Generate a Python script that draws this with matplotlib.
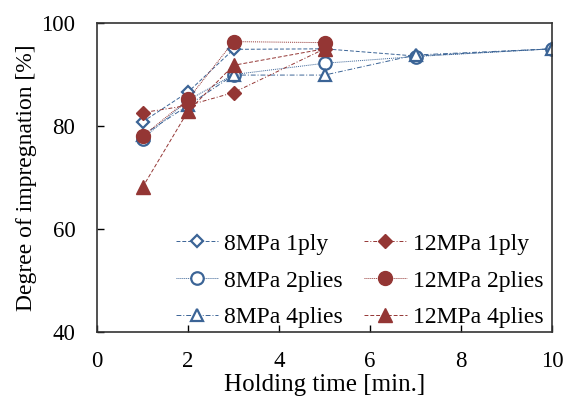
import numpy as np
import matplotlib.pyplot as plt

plt.rcParams['font.family'] = ['Liberation Serif', 'DejaVu Serif']
plt.rcParams['mathtext.fontset'] = 'stix'

blue = '#3b6496'
red = '#943634'

t_8 = [1, 2, 3, 5, 7, 10]
mpa8_1ply = [80.8, 86.6, 94.9, 95.0, 93.6, 95.0]
mpa8_2plies = [77.5, 85.0, 90.0, 92.2, 93.5, 95.0]
mpa8_4plies = [78.2, 84.0, 89.9, 89.9, 93.8, 95.0]

t_12 = [1, 2, 3, 5]
mpa12_1ply = [82.6, 84.0, 86.5, 95.0]
mpa12_2plies = [78.0, 85.2, 96.4, 96.2]
mpa12_4plies = [68.1, 82.9, 91.8, 95.0]

fig = plt.figure(figsize=(5.64, 3.98), dpi=100)
ax = fig.add_axes([0.172, 0.166, 0.807, 0.776])

lw = 0.7
ax.plot(t_8, mpa8_1ply, color=blue, lw=lw, dashes=(4, 2), marker='D', ms=6,
        mfc='white', mec=blue, mew=1.6, label='8MPa 1ply')
ax.plot(t_8, mpa8_2plies, color=blue, lw=lw, dashes=(1, 1), marker='o', ms=9,
        mfc='white', mec=blue, mew=1.6, label='8MPa 2plies')
ax.plot(t_8, mpa8_4plies, color=blue, lw=lw, dashes=(5, 2, 1, 2), marker='^', ms=9,
        mfc='white', mec=blue, mew=1.6, label='8MPa 4plies')
ax.plot(t_12, mpa12_1ply, color=red, lw=lw, dashes=(4, 2, 1, 2), marker='D', ms=7,
        mfc=red, mec=red, label='12MPa 1ply')
ax.plot(t_12, mpa12_2plies, color=red, lw=lw, dashes=(1, 1), marker='o', ms=10,
        mfc=red, mec=red, label='12MPa 2plies')
ax.plot(t_12, mpa12_4plies, color=red, lw=lw, dashes=(4, 2), marker='^', ms=10,
        mfc=red, mec=red, label='12MPa 4plies')

ax.set_xlim(0, 10)
ax.set_ylim(40, 100)
ax.set_xticks(np.arange(0, 11, 2))
ax.set_yticks(np.arange(40, 101, 20))
ax.tick_params(direction='in', labelsize=16.5, length=5, width=1)
ax.tick_params(axis='x', pad=14)
ax.tick_params(axis='y', pad=15.5)
for s in ax.spines.values():
    s.set_linewidth(1.2)
    s.set_color('#333333')

ax.set_xlabel('Holding time [min.]', fontsize=18, labelpad=1)
ax.set_ylabel('Degree of impregnation [%]', fontsize=17, labelpad=3)

ax.legend(ncol=2, loc='lower right', bbox_to_anchor=(0.988, 0.0), frameon=False,
          fontsize=17, handlelength=1.8, columnspacing=0.9, handletextpad=0.25,
          labelspacing=0.65, borderaxespad=0.05, borderpad=0.1)

fig.savefig('out.png', dpi=100)
